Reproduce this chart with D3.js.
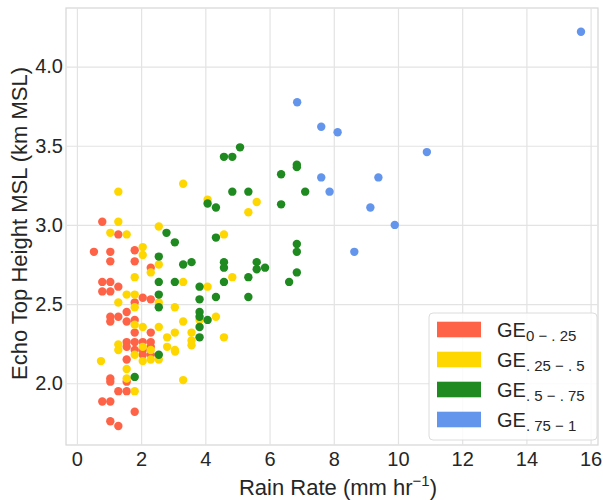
<!DOCTYPE html>
<html>
<head>
<meta charset="utf-8">
<script src="https://cdn.jsdelivr.net/npm/d3@7"></script>
<style>
  body { margin: 0; background: #fff; }
  text { font-family: "Liberation Sans", Arial, sans-serif; }
</style>
</head>
<body>
<div id="chart"></div>
<script>
// echo top height vs rain rate, coloured by GE class

var svgwidth = 603
var svgheight = 500
var margin = {"top": 8, "right": 5, "left": 66, "bottom": 55};

// DATA  [rain rate, echo top]
var geLow = [
  [0.79,3.02],[1.29,2.94],[0.53,2.83],[1.04,2.83],[1.80,2.84],[1.04,2.77],[1.80,2.77],[2.30,2.73],
  [0.79,2.64],[1.04,2.64],[0.79,2.58],[1.04,2.58],[1.29,2.61],[1.80,2.51],[2.05,2.54],[2.30,2.53],
  [1.55,2.45],[1.04,2.42],[1.29,2.42],[1.04,2.39],[1.55,2.39],[1.80,2.40],[1.80,2.32],[2.30,2.32],
  [1.55,2.26],[1.80,2.26],[2.05,2.26],[2.30,2.26],[1.55,2.23],[2.30,2.23],[1.80,2.21],[2.05,2.21],
  [2.05,2.18],[2.30,2.18],[1.55,2.15],[1.04,2.03],[1.04,2.01],[1.55,2.01],[1.29,1.95],[1.55,1.95],
  [0.79,1.885],[1.04,1.885],[1.80,1.82],[1.04,1.76],[1.29,1.73]
];
var geMidLow = [
  [1.29,3.21],[1.29,3.02],[2.55,2.99],[1.04,2.95],[1.55,2.94],[2.05,2.86],[2.05,2.81],[2.55,2.75],
  [2.30,2.70],[1.80,2.67],[1.55,2.56],[1.80,2.56],[1.29,2.51],[2.55,2.51],[1.80,2.48],[3.05,2.48],
  [1.80,2.37],[2.05,2.355],[2.55,2.355],[2.81,2.29],[3.05,2.32],[1.29,2.245],[2.05,2.23],
  [2.81,2.23],[1.29,2.21],[2.30,2.21],[3.05,2.21],[1.80,2.18],[2.05,2.14],[2.30,2.15],[2.55,2.15],
  [0.75,2.14],[1.55,2.09],[1.55,2.03],[1.80,1.95],
  [3.31,3.26],[4.07,3.16],[5.60,3.145],[5.34,3.08],[4.58,2.94],[4.84,2.67],[3.31,2.64],[4.07,2.61],
  [3.82,2.40],[4.33,2.42],[3.31,2.39],[3.57,2.32],[4.58,2.29],[3.57,2.27],[3.57,2.24],[3.06,2.20],
  [3.31,2.02]
];
var geMidHigh = [
  [2.79,2.95],[3.05,2.89],[2.55,2.80],[2.55,2.64],[3.05,2.64],[2.55,2.56],[2.55,2.48],[2.55,2.18],
  [1.80,2.04],[5.08,3.49],[4.58,3.43],[4.84,3.43],[6.85,3.38],[6.85,3.365],[6.36,3.32],[4.84,3.21],
  [5.34,3.21],[7.11,3.21],[4.07,3.135],[4.33,3.11],[6.36,3.13],[4.33,2.92],[6.85,2.88],[6.85,2.83],
  [3.31,2.75],[3.57,2.765],[4.58,2.765],[4.58,2.73],[5.60,2.765],[5.60,2.72],[5.86,2.73],[6.85,2.70],
  [5.34,2.67],[4.58,2.64],[6.61,2.64],[3.82,2.61],[4.33,2.545],[5.34,2.545],[3.82,2.53],[3.82,2.45],
  [3.82,2.42],[4.07,2.40],[3.82,2.355],[3.82,2.29]
];
var geHigh = [
  [6.86,3.775],[7.61,3.62],[8.12,3.585],[10.90,3.46],[7.61,3.30],[9.39,3.30],[7.87,3.21],
  [9.14,3.11],[9.90,3.00],[8.64,2.83],[15.70,4.22]
];

var xTicks = [0, 2, 4, 6, 8, 10, 12, 14, 16];
var yTicks = [2.0, 2.5, 3.0, 3.5, 4.0];
var seriesNames = ["0 \u2212 . 25", ". 25 \u2212 . 5", ". 5 \u2212 . 75", ". 75 \u2212 1"];
var colors = ["#ff6347", "#ffd700", "#1f8a1f", "#6495ed"];

var width = svgwidth - margin.left - margin.right;
var height = svgheight - margin.top - margin.bottom;

var svg = d3.select("#chart")
  .append("svg")
  .attr("width", svgwidth)
  .attr("height", svgheight)
  .append("g")
  .attr("transform", "translate(" + margin.left + "," + margin.top + ")");

var xScale = d3.scaleLinear().domain([-0.34, 16.23]).range([0, width]);
var yScale = d3.scaleLinear().domain([1.61, 4.37]).range([height, 0]);

// frame
svg.append("rect")
  .attr("width", width).attr("height", height)
  .attr("fill", "none").attr("stroke", "#d6d6d6").attr("stroke-width", 1.2);

// grid
var xGrid = svg.append("g").attr("transform", "translate(0," + height + ")")
  .call(d3.axisBottom(xScale).tickValues(xTicks).tickSize(-height).tickFormat(""));
var yGrid = svg.append("g")
  .call(d3.axisLeft(yScale).tickValues(yTicks).tickSize(-width).tickFormat(""));
[xGrid, yGrid].forEach(function(g) {
  g.select(".domain").remove();
  g.selectAll("line").attr("stroke", "#e3e3e3").attr("stroke-width", 1.2);
});

// axes
var xAxis = svg.append("g").attr("transform", "translate(0," + height + ")")
  .call(d3.axisBottom(xScale).tickValues(xTicks).tickSize(0).tickPadding(7).tickFormat(d3.format("d")));
var yAxis = svg.append("g")
  .call(d3.axisLeft(yScale).tickValues(yTicks).tickSize(0).tickPadding(3).tickFormat(d3.format(".1f")));
[xAxis, yAxis].forEach(function(g) {
  g.select(".domain").remove();
  g.selectAll("text").attr("font-size", "20px").attr("fill", "#262626")
    .attr("font-family", "'Liberation Sans', Arial, sans-serif");
});

// points
var allSeries = [geLow, geMidLow, geMidHigh, geHigh];
allSeries.forEach(function(s, i) {
  svg.append("g").selectAll("circle")
    .data(s)
    .enter()
    .append("circle")
      .attr("cx", function(d) { return xScale(d[0]); })
      .attr("cy", function(d) { return yScale(d[1]); })
      .attr("r", 4.2)
      .attr("fill", colors[i]);
});

// axis labels
var xl = svg.append("text")
  .attr("x", width / 2 + 6)
  .attr("y", height + 50)
  .attr("text-anchor", "middle")
  .attr("font-size", "22px")
  .attr("fill", "#262626");
xl.append("tspan").text("Rain Rate (mm hr");
xl.append("tspan").attr("font-size", "15px").attr("dy", -9).text("\u22121");
xl.append("tspan").attr("dy", 9).text(")");

svg.append("text")
  .attr("transform", "rotate(-90)")
  .attr("x", -height / 2 + 3)
  .attr("y", -39)
  .attr("text-anchor", "middle")
  .attr("font-size", "22px")
  .attr("fill", "#262626")
  .text("Echo Top Height MSL (km MSL)");

// legend
var legend = svg.append("g").attr("transform", "translate(" + (429 - margin.left) + "," + (313 - margin.top) + ")");
legend.append("rect")
  .attr("width", 168).attr("height", 127).attr("rx", 4)
  .attr("fill", "#fff").attr("fill-opacity", 0.85)
  .attr("stroke", "#dcdcdc");
seriesNames.forEach(function(n, i) {
  var row = legend.append("g").attr("transform", "translate(0," + (16.5 + i * 30) + ")");
  row.append("rect").attr("x", 8).attr("y", -7.8).attr("width", 44).attr("height", 15.6).attr("fill", colors[i]);
  var t = row.append("text").attr("x", 68).attr("y", 7).attr("font-size", "20px").attr("fill", "#262626");
  t.append("tspan").text("GE");
  t.append("tspan").attr("font-size", "15px").attr("dy", 4).attr("xml:space", "preserve").text(n);
});
</script>
</body>
</html>
